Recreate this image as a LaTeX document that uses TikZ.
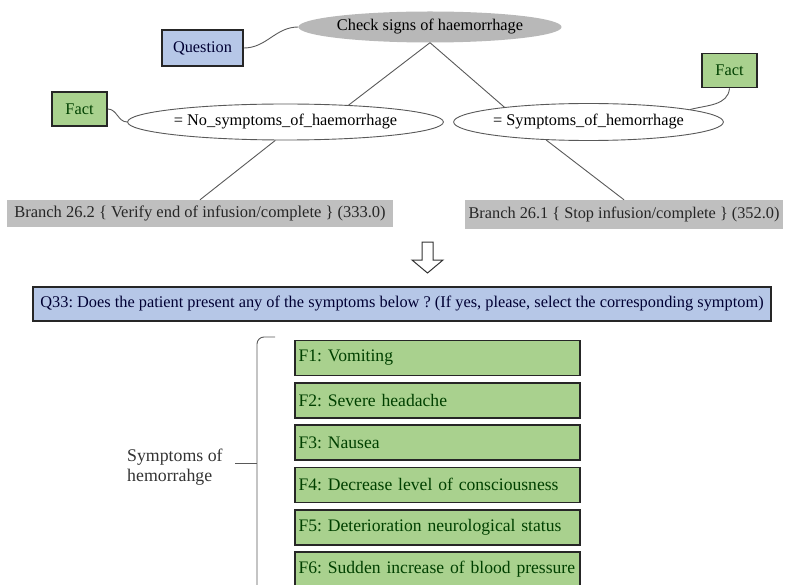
\documentclass[tikz,border=0pt]{standalone}
\usepackage{fontspec}
\setmainfont{Liberation Serif}
\usetikzlibrary{shapes.geometric,positioning}
\definecolor{qblue}{RGB}{182,199,231}
\definecolor{fgreen}{RGB}{169,209,142}
\definecolor{bgray}{RGB}{191,191,191}
\definecolor{egray}{RGB}{184,184,184}
\frenchspacing

\begin{document}
\begin{tikzpicture}[x=1pt,y=1pt]
        \tikzstyle{every node}+=[inner sep=0pt, font=\fontsize{16.3}{19}\selectfont]
        \tikzstyle{qbox}=[draw=black!85, line width=1.6pt, fill=qblue, text=black!80!blue]
        \tikzstyle{fbox}=[draw=black!85, line width=1.6pt, fill=fgreen, text=black!75!green]
        \tikzstyle{brbox}=[fill=bgray, text=black!85]
        \tikzstyle{oval}=[ellipse, draw=black!65, line width=0.9pt, fill=white]
        \tikzstyle{conn}=[black!65, line width=0.9pt]
        \useasboundingbox (0,0) rectangle (791,-585);
        \clip (0,0) rectangle (791,-585);
        % upper tree
        \node [ellipse, fill=egray, minimum width=260, minimum height=31] (check) at (430,-27) {Check signs of haemorrhage};
        \node [qbox, minimum width=81, minimum height=36] (quest) at (202.5,-48) {Question};
        \node [fbox, minimum width=55, minimum height=34] (factl) at (79.5,-109) {Fact};
        \node [fbox, minimum width=55, minimum height=34] (factr) at (729.5,-70.5) {Fact};
        \node [oval, minimum width=285, minimum height=36] (nosym) at (285.5,-122) {= No\_symptoms\_of\_haemorrhage};
        \node [oval, minimum width=267, minimum height=37] (sym) at (588.5,-122) {= Symptoms\_of\_hemorrhage};
        \node [brbox, minimum width=386, minimum height=27, font=\fontsize{16.5}{19}\selectfont] (br2) at (200,-213.5) {Branch 26.2 \{ Verify end of infusion/complete \} (333.0)};
        \node [brbox, minimum width=318, minimum height=29] (br1) at (624,-214.5) {Branch 26.1 \{ Stop infusion/complete \} (352.0)};
        \draw [conn] (quest.east) to [out=0,in=180] (check.west);
        \draw [conn] (factl.east) to [out=0,in=180] (nosym.west);
        \draw [conn] (factr.south) to [out=-95,in=15] (sym.7);
        \draw [conn] (check.south) -- (nosym.15);
        \draw [conn] (check.south) -- (sym.170);
        \draw [conn] (nosym.241) -- (br2.north);
        \draw [conn] (sym.203) -- (br1.north);
        % open arrow
        \draw [black!80, line width=1pt, fill=white] (422,-242) -- (433,-242) -- (433,-260) -- (443,-260) -- (427.5,-273) -- (412,-260) -- (422,-260) -- cycle;
        % question and symptoms
        \node [qbox, minimum width=738, minimum height=34, font=\fontsize{16.35}{19}\selectfont] (q33) at (402,-304) {Q33: Does the patient present any of the symptoms below ? (If yes, please, select the corresponding symptom)};
        \foreach \t [count=\i] in {Vomiting, Severe headache, Nausea, Decrease level of consciousness, Deterioration neurological status, Sudden increase of blood pressure}
            \node [fbox, text width=278, align=left, inner xsep=3.5pt, minimum height=35, font=\fontsize{17.6}{20}\selectfont] (f\i) at (437.5,{-358-42.3*(\i-1)}) {F\i: \t};
        \node [anchor=west, align=left, text=black!80, font=\fontsize{17.8}{20}\selectfont] (symlab) at (127,-467) {Symptoms of\\hemorrahge};
        \coordinate (tip) at (235,-463);
        \draw [conn, rounded corners=7] (275,-337) -- (257,-337) -- (257,-600);
        \draw [conn] (tip) -- (257,-463);
\end{tikzpicture}
\end{document}
